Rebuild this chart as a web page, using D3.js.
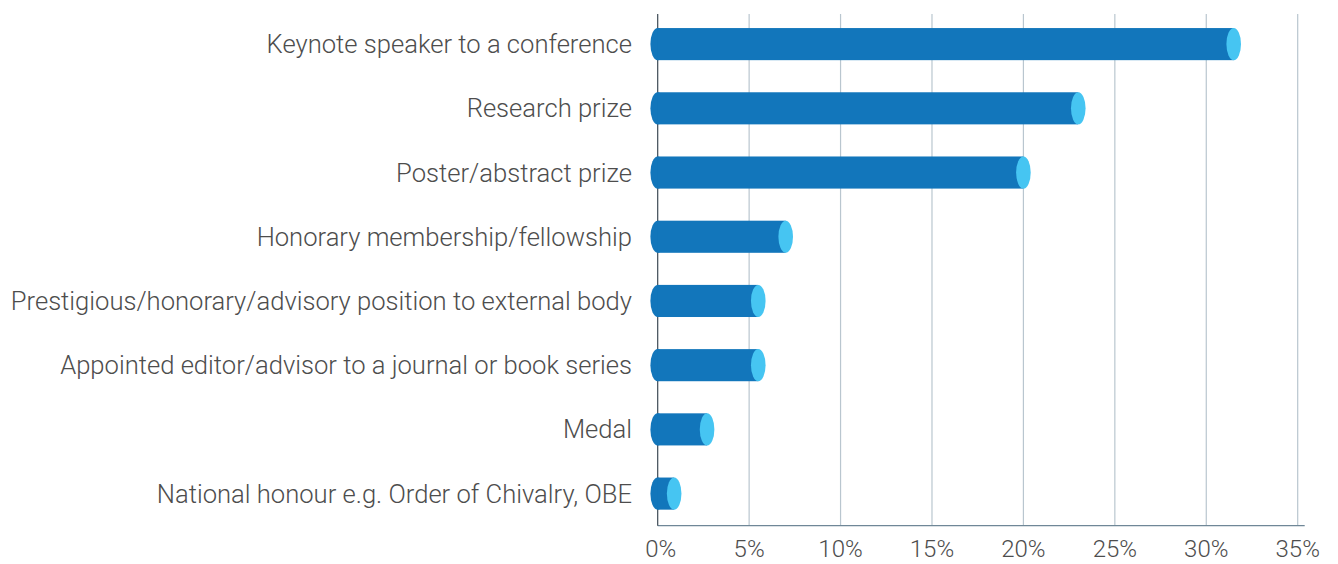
<!DOCTYPE html>
<html>
<head>
<meta charset="utf-8">
<script src="https://cdn.jsdelivr.net/npm/d3@7"></script>
<style>
  body { margin: 0; background: #fff; }
  svg text { font-family: Roboto, "Noto Sans", sans-serif; font-weight: 300; fill: #4d4d4d; }
</style>
</head>
<body>
<div id="chart"></div>
<script>
// categories, top to bottom
const categories = [
  "Keynote speaker to a conference",
  "Research prize",
  "Poster/abstract prize",
  "Honorary membership/fellowship",
  "Prestigious/honorary/advisory position to external body",
  "Appointed editor/advisor to a journal or book series",
  "Medal",
  "National honour e.g. Order of Chivalry, OBE"
];
// share of respondents, %
const values = [31.5, 23.0, 20.0, 7.0, 5.5, 5.5, 2.7, 0.9];
const ticks = [0, 5, 10, 15, 20, 25, 30, 35];

const width = 1338, height = 564;
const xStart = 657.7, xEnd = 1297.7, plotTop = 14, plotBottom = 525.7;

const svg = d3.select("#chart").append("svg")
  .attr("width", width)
  .attr("height", height);

const x = d3.scaleLinear().domain([0, 35]).range([xStart, xEnd]);
const y = d3.scaleBand()
  .domain(categories)
  .range([12, plotBottom])
  .paddingInner(0.5)
  .paddingOuter(0.25);

// grid lines
svg.append("g")
  .selectAll("line")
  .data(ticks.slice(1))
  .enter()
  .append("line")
  .attr("x1", d => x(d)).attr("x2", d => x(d))
  .attr("y1", plotTop).attr("y2", plotBottom)
  .attr("stroke", "#b9c6cf")
  .attr("stroke-width", 1.2);

// bottom axis line
svg.append("line")
  .attr("x1", xStart).attr("x2", xEnd + 7)
  .attr("y1", plotBottom).attr("y2", plotBottom)
  .attr("stroke", "#6f8797")
  .attr("stroke-width", 1.2);

// left axis line
svg.append("line")
  .attr("x1", xStart).attr("x2", xStart)
  .attr("y1", plotTop).attr("y2", plotBottom)
  .attr("stroke", "#3d4a55")
  .attr("stroke-width", 1.2);

// tick labels
svg.append("g")
  .selectAll("text")
  .data(ticks)
  .enter()
  .append("text")
  .attr("x", d => x(d) + (d === 0 ? 3 : 0))
  .attr("y", 557)
  .attr("text-anchor", "middle")
  .style("font-size", "24px")
  .text(d => d + "%");

// category labels
svg.append("g")
  .selectAll("text")
  .data(categories)
  .enter()
  .append("text")
  .attr("x", 632)
  .attr("y", d => y(d) + y.bandwidth() / 2 + 9)
  .attr("text-anchor", "end")
  .style("font-size", "25.6px")
  .text(d => d);

// cylinder bars
const dark = "#1276bb", light = "#46c5f2";
const rx = 7.3;
const bars = svg.append("g")
  .selectAll("g")
  .data(categories.map((c, i) => ({ c, v: values[i] })))
  .enter()
  .append("g");

bars.append("ellipse")
  .attr("cx", x(0))
  .attr("cy", d => y(d.c) + y.bandwidth() / 2)
  .attr("rx", rx)
  .attr("ry", y.bandwidth() / 2)
  .attr("fill", dark);

bars.append("rect")
  .attr("x", x(0))
  .attr("y", d => y(d.c))
  .attr("width", d => x(d.v) - x(0))
  .attr("height", y.bandwidth())
  .attr("fill", dark);

bars.append("ellipse")
  .attr("cx", d => x(d.v))
  .attr("cy", d => y(d.c) + y.bandwidth() / 2)
  .attr("rx", rx)
  .attr("ry", y.bandwidth() / 2)
  .attr("fill", light);
</script>
</body>
</html>
